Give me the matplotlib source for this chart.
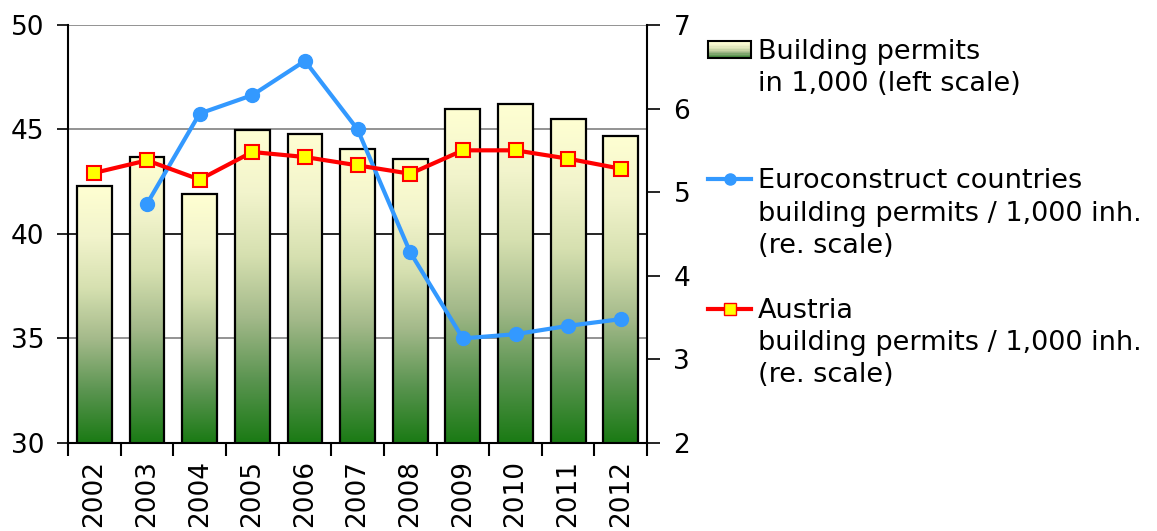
import matplotlib

matplotlib.use("Agg")
import matplotlib.pyplot as plt
import numpy as np
from matplotlib.colors import LinearSegmentedColormap
from matplotlib.legend_handler import HandlerBase
from matplotlib.lines import Line2D
from matplotlib.patches import Rectangle

years = ["2002", "2003", "2004", "2005", "2006", "2007", "2008", "2009", "2010", "2011", "2012"]
# building permits in 1,000 (left scale)
permits = [42.3, 43.7, 41.9, 44.95, 44.8, 44.05, 43.6, 46.0, 46.2, 45.5, 44.7]
# Euroconstruct countries, permits / 1,000 inh. (right scale), no 2002 value
euroconstruct = [np.nan, 4.86, 5.94, 6.16, 6.57, 5.75, 4.28, 3.25, 3.30, 3.40, 3.48]
# Austria, permits / 1,000 inh. (right scale)
austria = [5.23, 5.38, 5.15, 5.48, 5.42, 5.32, 5.22, 5.50, 5.50, 5.40, 5.28]

BLUE = "#3399ff"
RED = "#ff0000"
# bar gradient, bottom (dark green) -> top (cream)
bar_cmap = LinearSegmentedColormap.from_list(
    "bars", ["#1a7a14", "#5a9450", "#a3b98a", "#d6e0b0", "#f2f4cc", "#ffffd2"])

plt.rcParams["font.family"] = ["DejaVu Sans"]
FS = 19

fig = plt.figure(figsize=(11.57, 5.31), dpi=100)
ax = fig.add_axes([0.0588, 0.166, 0.5005, 0.787])
x = np.arange(len(years))

bars = ax.bar(x, permits, width=0.66, bottom=0, color="none",
              edgecolor="black", linewidth=1.6, zorder=3)
grad = np.linspace(0, 1, 256).reshape(-1, 1)
for b in bars:
    x0, w, h = b.get_x(), b.get_width(), b.get_height()
    im = ax.imshow(grad, cmap=bar_cmap, origin="lower", aspect="auto",
                   extent=(x0, x0 + w, 30, h), zorder=2)
    im.set_clip_path(b)

ax.set_xlim(-0.5, len(years) - 0.5)
ax.set_ylim(30, 50)
ax.set_yticks([30, 35, 40, 45, 50])
ax.set_axisbelow(True)
for v in [35, 45, 50]:
    ax.axhline(v, color="#808080", linewidth=1.2, zorder=1)
ax.axhline(40, color="black", linewidth=1.2, zorder=1)

ax.set_xticks(x)
ax.set_xticklabels(years, rotation=90, fontsize=FS)
ax.set_xticks(np.arange(len(years) + 1) - 0.5, minor=True)
ax.tick_params(axis="x", which="major", length=0, pad=12)
ax.tick_params(axis="x", which="minor", length=9, width=1.5, direction="out")
ax.tick_params(axis="y", length=8, width=1.2, pad=9, labelsize=FS)
ax.spines["top"].set_visible(False)
ax.spines["right"].set_visible(False)
for s in ["left", "bottom"]:
    ax.spines[s].set_linewidth(1.5)

ax2 = ax.twinx()
ax2.set_ylim(2, 7)
ax2.set_yticks([2, 3, 4, 5, 6, 7])
ax2.tick_params(axis="y", length=9, width=1.2, pad=10, labelsize=FS)
ax2.spines["top"].set_visible(False)
ax2.spines["left"].set_visible(False)
ax2.spines["bottom"].set_visible(False)
ax2.spines["right"].set_linewidth(1.5)

ax2.plot(x, euroconstruct, color=BLUE, linewidth=3, marker="o",
         markersize=10, markerfacecolor=BLUE, markeredgecolor=BLUE, zorder=3)
ax2.plot(x, austria, color=RED, linewidth=3, marker="s", markersize=10,
         markerfacecolor="#ffff00", markeredgecolor=RED, markeredgewidth=1.5,
         zorder=4)


class GradientHandler(HandlerBase):
    def create_artists(self, legend, orig_handle, xdescent, ydescent,
                       width, height, fontsize, trans):
        arts = []
        n = 12
        for k in range(n):
            arts.append(Rectangle((-xdescent, -ydescent + height * k / n),
                                  width, height / n,
                                  facecolor=bar_cmap(0.15 + 0.85 * k / (n - 1)),
                                  edgecolor="none", transform=trans))
        arts.append(Rectangle((-xdescent, -ydescent), width, height,
                              facecolor="none", edgecolor="black",
                              linewidth=1.5, transform=trans))
        return arts


bar_handle = Rectangle((0, 0), 1, 1)
blank = Line2D([], [], linestyle="none")
blue_h = Line2D([], [], color=BLUE, linewidth=3, marker="o", markersize=8)
red_h = Line2D([], [], color=RED, linewidth=3, marker="s", markersize=9,
               markerfacecolor="#ffff00", markeredgecolor=RED)
rows = [
    (bar_handle, "Building permits"),
    (blank, "in 1,000 (left scale)"),
    (blank, " "),
    (blank, " "),
    (blue_h, "Euroconstruct countries"),
    (blank, "building permits / 1,000 inh."),
    (blank, "(re. scale)"),
    (blank, " "),
    (red_h, "Austria"),
    (blank, "building permits / 1,000 inh."),
    (blank, "(re. scale)"),
]
fig.legend([r[0] for r in rows], [r[1] for r in rows],
           handler_map={Rectangle: GradientHandler()},
           loc="upper left", bbox_to_anchor=(0.612, 0.927),
           frameon=False, fontsize=19.5, labelspacing=0.235,
           handlelength=1.6, handleheight=0.57, handletextpad=0.23,
           borderpad=0, borderaxespad=0)

fig.savefig("out.png", dpi=100)
